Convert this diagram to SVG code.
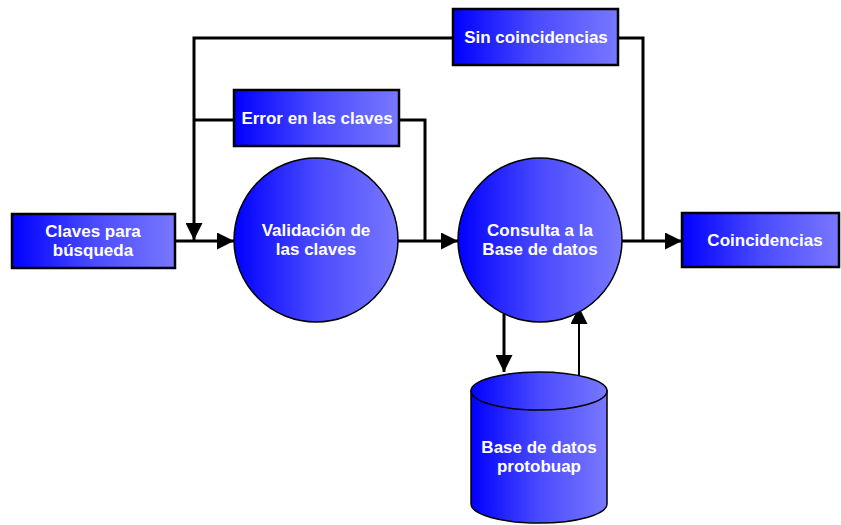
<svg xmlns="http://www.w3.org/2000/svg" width="841" height="525" viewBox="0 0 841 525">
<defs>
<linearGradient id="g" x1="0" y1="0" x2="1" y2="0">
<stop offset="0" stop-color="#0000ff"/>
<stop offset="0.5" stop-color="#4a4aff"/>
<stop offset="1" stop-color="#7878ff"/>
</linearGradient>
<marker id="ah" viewBox="0 0 10 10" refX="10" refY="5" markerWidth="17" markerHeight="17" markerUnits="userSpaceOnUse" orient="auto">
<path d="M0,0 L10,5 L0,10 Z" fill="#000"/>
</marker>
</defs>
<style>
.box{fill:url(#g);stroke:#000;stroke-width:2.5}
.circ{fill:url(#g);stroke:#000;stroke-width:1.5}
.t{font-family:"Liberation Sans",Arial,sans-serif;font-weight:bold;font-size:17px;fill:#fff;text-anchor:middle}
.ln{fill:none;stroke:#000;stroke-width:3}
</style>
<rect width="841" height="525" fill="#fff"/>
<g id="connectors">
<polyline class="ln" points="453,38 194,38 194,240" marker-end="url(#ah)"/>
<polyline class="ln" points="234,120 194,120"/>
<line class="ln" x1="175" y1="241" x2="234" y2="241" marker-end="url(#ah)"/>
<line class="ln" x1="398" y1="241" x2="458" y2="241" marker-end="url(#ah)"/>
<polyline class="ln" points="399,120 425,120 425,241"/>
<line class="ln" x1="622" y1="241" x2="682" y2="241" marker-end="url(#ah)"/>
<polyline class="ln" points="618,38 643,38 643,241"/>
<line class="ln" x1="504" y1="314" x2="504" y2="372" marker-end="url(#ah)"/>
<line x1="579" y1="376" x2="579" y2="307" stroke="#000" stroke-width="2" marker-end="url(#ah)" fill="none"/>
</g>
<g id="claves">
<rect class="box" x="12" y="214" width="163" height="54"/>
<text class="t" x="93" y="237">Claves para</text>
<text class="t" x="93" y="256">búsqueda</text>
</g>
<g id="sin">
<rect class="box" x="453" y="9" width="165" height="56"/>
<text class="t" x="536" y="43">Sin coincidencias</text>
</g>
<g id="error">
<rect class="box" x="234" y="90" width="165" height="56"/>
<text class="t" x="317" y="124">Error en las claves</text>
</g>
<g id="validacion">
<circle class="circ" cx="316" cy="240" r="82"/>
<text class="t" x="316" y="236">Validación de</text>
<text class="t" x="316" y="255">las claves</text>
</g>
<g id="consulta">
<circle class="circ" cx="540" cy="240" r="82"/>
<text class="t" x="540" y="236">Consulta a la</text>
<text class="t" x="540" y="255">Base de datos</text>
</g>
<g id="coincidencias">
<rect class="box" x="682" y="213" width="157" height="54"/>
<text class="t" x="765" y="246">Coincidencias</text>
</g>
<g id="basedatos">
<path class="circ" d="M471,391 L471,504 A68,19 0 0 0 607,504 L607,391 Z"/>
<ellipse class="circ" cx="539" cy="391" rx="68" ry="19"/>
<text class="t" x="539" y="453">Base de datos</text>
<text class="t" x="539" y="472">protobuap</text>
</g>
</svg>
